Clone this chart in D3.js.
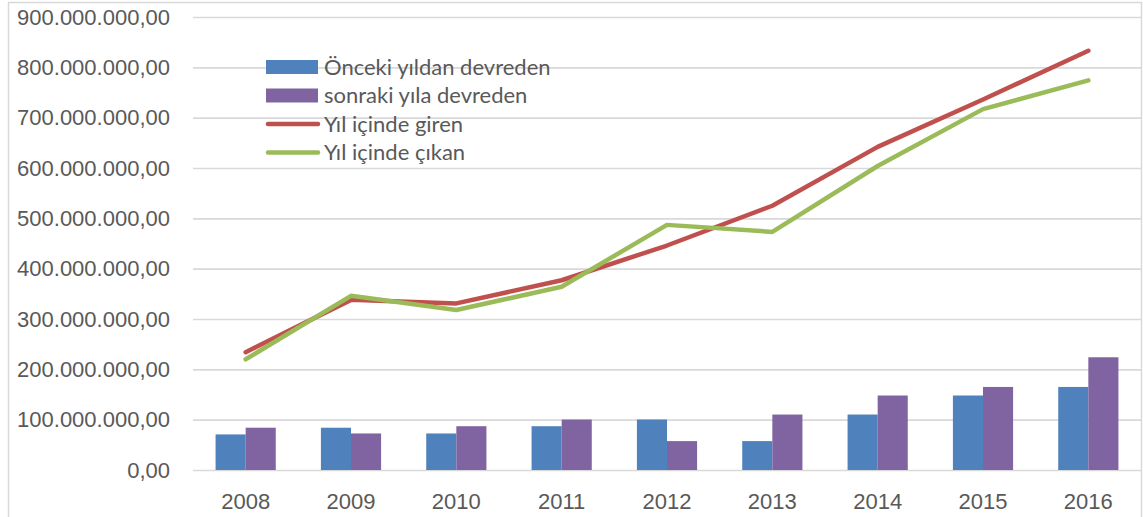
<!DOCTYPE html>
<html>
<head>
<meta charset="utf-8">
<script src="https://cdn.jsdelivr.net/npm/d3@7"></script>
<style>
  body { margin: 0; background: #fff; }
  svg { font-family: Lato, "Noto Sans", sans-serif; }
</style>
</head>
<body>
<div class="chart"></div>
<script>
const years = ["2008", "2009", "2010", "2011", "2012", "2013", "2014", "2015", "2016"];
const onceki = [70.7, 84, 72.6, 87, 100.3, 57.4, 110.2, 148, 165].map(v => v * 1e6);
const sonraki = [84, 72.6, 87, 100.3, 57.4, 110.2, 148, 165, 224].map(v => v * 1e6);
const giren = [234, 338, 331, 377, 446, 525, 642, 736, 833].map(v => v * 1e6);
const cikan = [220, 346, 318, 364, 487, 473, 604, 717, 774].map(v => v * 1e6);
const yTicks = [0, 1, 2, 3, 4, 5, 6, 7, 8, 9].map(v => v * 1e8);

const seriesNames = ["Önceki yıldan devreden", "sonraki yıla devreden", "Yıl içinde giren", "Yıl içinde çıkan"];
const colors = ["#4F81BD", "#8064A2", "#C0504D", "#9BBB59"];

const width = 1143;
const height = 517;
const marginTop = 17;
const marginRight = 2;
const marginBottom = 47;
const marginLeft = 193;
const fontSize = 22;

const locale = d3.formatLocale({ decimal: ",", thousands: ".", grouping: [3], currency: ["", ""] });
const fmt = locale.format(",.2f");

const x = d3.scaleBand()
    .domain(years)
    .range([marginLeft, width - marginRight]);

const xSub = d3.scaleBand()
    .domain([0, 1])
    .range([0, x.bandwidth()])
    .paddingOuter(0.75);

const y = d3.scaleLinear()
    .domain([0, 9e8])
    .range([height - marginBottom, marginTop]);

const svg = d3.select('.chart').append("svg")
    .attr("width", width)
    .attr("height", height);

// chart border
svg.append("rect")
    .attr("x", 8.5)
    .attr("y", 2.5)
    .attr("width", 1133)
    .attr("height", 530)
    .attr("fill", "none")
    .attr("stroke", "#D9D9D9")
    .attr("stroke-width", 1.5);

// y axis with gridlines
const yAxis = svg.append("g")
    .attr("transform", `translate(${marginLeft},0)`)
    .call(d3.axisLeft(y)
        .tickValues(yTicks)
        .tickFormat(fmt)
        .tickSize(-(width - marginRight - marginLeft))
        .tickPadding(23));
yAxis.select(".domain").remove();
yAxis.selectAll("line").attr("stroke", "#D9D9D9").attr("stroke-width", 1.6);
yAxis.selectAll("text").attr("fill", "#595959").attr("font-size", fontSize);

// x axis
const xAxis = svg.append("g")
    .attr("transform", `translate(0,${height - marginBottom})`)
    .call(d3.axisBottom(x).tickSize(0).tickPadding(23));
xAxis.select(".domain").remove();
xAxis.selectAll("text").attr("fill", "#595959").attr("font-size", fontSize);

// bars
const barData = [onceki, sonraki];
const groups = svg.append("g")
    .selectAll("g")
    .data(years)
    .join("g")
    .attr("transform", d => `translate(${x(d)},0)`);

groups.selectAll("rect")
    .data((d, i) => barData.map((s, k) => ({ k: k, v: s[i] })))
    .join("rect")
    .attr("x", d => xSub(d.k))
    .attr("width", xSub.bandwidth())
    .attr("y", d => y(d.v))
    .attr("height", d => y(0) - y(d.v))
    .attr("fill", d => colors[d.k]);

// lines
const line = d3.line()
    .x((d, i) => x(years[i]) + x.bandwidth() / 2)
    .y(d => y(d));

[giren, cikan].forEach((s, k) => {
    svg.append("path")
        .datum(s)
        .attr("d", line)
        .attr("fill", "none")
        .attr("stroke", colors[k + 2])
        .attr("stroke-width", 4.5)
        .attr("stroke-linecap", "round")
        .attr("stroke-linejoin", "round");
});

// legend
const legend = svg.append("g")
    .attr("transform", "translate(266,67)");

const items = legend.selectAll("g")
    .data(seriesNames)
    .join("g")
    .attr("transform", (d, i) => `translate(0,${i * 28.5})`);

items.each(function (d, i) {
    const g = d3.select(this);
    if (i < 2) {
        g.append("rect")
            .attr("x", 0)
            .attr("y", -7)
            .attr("width", 52)
            .attr("height", 14)
            .attr("fill", colors[i]);
    } else {
        g.append("line")
            .attr("x1", 2)
            .attr("x2", 52)
            .attr("stroke", colors[i])
            .attr("stroke-width", 4.5)
            .attr("stroke-linecap", "round");
    }
    g.append("text")
        .attr("x", 58)
        .attr("dy", "0.35em")
        .attr("fill", "#595959")
        .attr("font-size", fontSize)
        .text(d);
});
</script>
</body>
</html>
